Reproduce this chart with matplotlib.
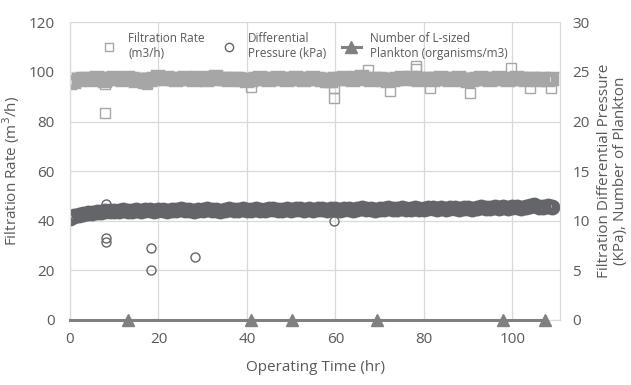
import numpy as np
import matplotlib
matplotlib.use("Agg")
import matplotlib.pyplot as plt

plt.rcParams['font.family'] = ['Open Sans', 'DejaVu Sans']

# operating time grid (hr) for the dense logged series
hours = np.arange(0, 110)

# filtration rate (m3/h), one reading per hour
rate = [95.6, 96.1, 96.8, 97.2, 97.0, 96.6, 97.4, 97.0, 96.3, 97.3,
        97.6, 97.1, 96.8, 97.4, 97.0, 96.5, 96.9, 96.0, 96.7, 97.3,
        97.8, 97.2, 97.5, 97.0, 96.8, 97.3, 97.6, 97.2, 96.9, 97.4,
        97.1, 96.8, 97.5, 97.9, 97.3, 97.0, 96.7, 97.2, 97.0, 96.6,
        96.4, 96.8, 97.2, 97.5, 97.0, 96.9, 97.3, 97.6, 97.2, 96.8,
        97.1, 97.4, 97.0, 96.7, 97.2, 97.5, 97.1, 96.8, 96.4, 96.5,
        97.0, 97.3, 97.6, 97.2, 96.9, 97.4, 97.8, 97.2, 96.9, 97.3,
        97.0, 96.8, 96.4, 96.7, 97.1, 97.4, 97.0, 97.6, 97.2, 96.9,
        97.3, 97.1, 96.8, 97.2, 97.5, 97.0, 96.7, 97.2, 97.4, 96.8,
        96.3, 96.6, 97.0, 97.4, 97.1, 96.8, 97.2, 97.5, 97.3, 96.9,
        97.1, 97.4, 97.0, 96.7, 97.2, 97.3, 96.9, 97.1, 96.8, 97.0]
rate_out_t = [7.8, 7.8, 17.5, 41.0, 59.7, 59.7, 67.3, 72.3, 78.2, 78.2, 81.3, 90.4, 99.8, 104.0, 108.8]
rate_out_v = [83.6, 95.0, 95.0, 94.0, 89.5, 93.5, 100.7, 92.2, 101.3, 102.2, 93.4, 91.4, 101.4, 93.4, 93.5]

# differential pressure (kPa), one reading per hour
dp = [10.3, 10.5, 10.6, 10.7, 10.8, 10.8, 10.9, 10.9, 11.0, 11.0,
      11.0, 11.0, 11.1, 11.0, 11.0, 11.1, 11.0, 11.1, 11.1, 11.0,
      11.1, 11.1, 11.0, 11.1, 11.1, 11.2, 11.1, 11.1, 11.0, 11.1,
      11.1, 11.2, 11.1, 11.1, 11.0, 11.1, 11.2, 11.1, 11.1, 11.2,
      11.1, 11.1, 11.2, 11.1, 11.1, 11.2, 11.2, 11.1, 11.1, 11.2,
      11.1, 11.2, 11.2, 11.1, 11.2, 11.1, 11.2, 11.2, 11.1, 11.2,
      11.2, 11.1, 11.2, 11.2, 11.1, 11.2, 11.3, 11.2, 11.2, 11.1,
      11.2, 11.2, 11.3, 11.2, 11.2, 11.3, 11.2, 11.2, 11.3, 11.2,
      11.2, 11.3, 11.3, 11.2, 11.3, 11.2, 11.3, 11.3, 11.2, 11.3,
      11.3, 11.2, 11.3, 11.4, 11.3, 11.3, 11.4, 11.3, 11.4, 11.3,
      11.4, 11.4, 11.3, 11.4, 11.5, 11.6, 11.4, 11.4, 11.5, 11.4]
dp_out_t = [8.2, 8.2, 8.2, 18.3, 18.3, 28.3, 59.8]
dp_out_v = [11.7, 8.3, 7.9, 7.3, 5.0, 6.3, 10.0]

# L-sized plankton counts (organisms/m3)
plk_t = [0, 13.1, 40.9, 50.2, 69.5, 97.9, 107.3]
plk_v = [0, 0, 0, 0, 0, 0, 0]

txt = '#595959'
c_rate = '#a6a6a6'
c_dp = '#646569'
c_plk = '#808080'

fig = plt.figure(figsize=(6.31, 3.85), dpi=100)
ax = fig.add_axes([0.111, 0.169, 0.7765, 0.773])
ax2 = ax.twinx()

# dense logged readings overlap into a solid band
ax.plot(hours, rate, ls='none', marker='s', ms=7.5, mfc='none', mec=c_rate, mew=3.2)
ax.plot(rate_out_t, rate_out_v, ls='none', marker='s', ms=6.5, mfc='none', mec=c_rate, mew=1.0)
ax2.plot(hours, dp, ls='none', marker='o', ms=8, mfc='none', mec=c_dp, mew=3.4)
ax2.plot(dp_out_t, dp_out_v, ls='none', marker='o', ms=6.5, mfc='none', mec=c_dp, mew=1.0)
ax2.plot(plk_t, plk_v, color=c_plk, lw=2.2, marker='^', ms=8.5, markevery=list(range(1, 7)),
         clip_on=False, zorder=5)

ax.set_xlim(0, 110.8)
ax.set_ylim(0, 120)
ax2.set_ylim(0, 30)
ax.set_xticks([0, 20, 40, 60, 80, 100])
ax.set_yticks(range(0, 121, 20))
ax2.set_yticks(range(0, 31, 5))
ax.grid(True, color='#d9d9d9', lw=0.9)
ax.set_axisbelow(True)

for a in (ax, ax2):
    a.tick_params(length=0, labelsize=11, labelcolor=txt)
    for s in a.spines.values():
        s.set_color('#d9d9d9')
    a.spines['top'].set_visible(False)
ax.tick_params(axis='y', pad=11)
ax.tick_params(axis='x', pad=9)
ax2.tick_params(axis='y', pad=9)

ax.set_xlabel('Operating Time (hr)', fontsize=11, color=txt, labelpad=9)
ax.set_ylabel('Filtration Rate (m$^3$/h)', fontsize=11, color=txt, labelpad=5)
ax2.set_ylabel('Filtration Differential Pressure\n(KPa), Number of Plankton', fontsize=11,
               color=txt, labelpad=5, rotation=90, linespacing=1.15)

# legend handles
h_rate, = ax.plot([], [], ls='none', marker='s', ms=6, mfc='none', mec=c_rate, mew=1.0)
h_dp, = ax.plot([], [], ls='none', marker='o', ms=6, mfc='none', mec=c_dp, mew=1.0)
h_plk, = ax.plot([], [], color=c_plk, lw=2.2, marker='^', ms=8)
ax2.legend([h_rate, h_dp, h_plk],
           ['Filtration Rate\n(m3/h)', 'Differential\nPressure (kPa)',
            'Number of L-sized\nPlankton (organisms/m3)'],
           ncol=3, frameon=False, loc='upper left', bbox_to_anchor=(0.04, 1.0),
           fontsize=8.5, labelcolor=txt, handlelength=1.6, columnspacing=1.3,
           handletextpad=0.8, borderaxespad=0.45)

fig.savefig('out.png', dpi=100)
